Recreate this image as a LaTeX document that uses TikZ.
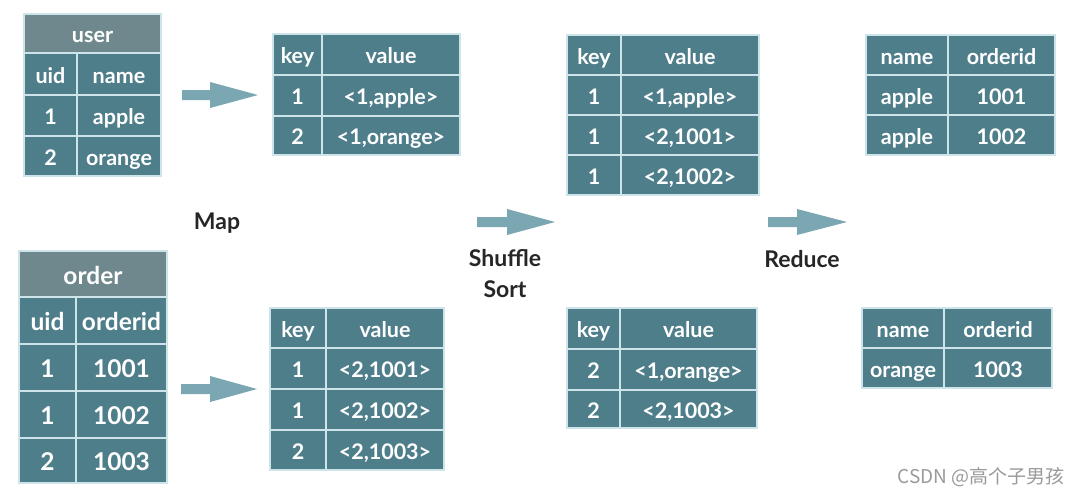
\documentclass[tikz,border=0pt]{standalone}
\usepackage{fontspec}
\setmainfont{Lato}
\newfontfamily\cjk{Noto Sans CJK SC}
\definecolor{cellc}{HTML}{4F7E8B}
\definecolor{headc}{HTML}{6F888D}
\definecolor{gridc}{HTML}{CDE5EA}
\definecolor{arrc}{HTML}{7AA7B2}
\definecolor{wmc}{HTML}{9A9A9A}
\newcommand{\tcell}[7]{\node[#6, minimum width={(#4-#2)*1pt}, minimum height={(#5-#3)*1pt}] (#1) at ({(#2+#4)/2},{(#3+#5)/2}) {#7};}
\newcommand{\barrow}[4]{\fill[arrc] (#1,#4-5) -- (#2,#4-5) -- (#2,#4-13) -- (#3,#4) -- (#2,#4+13) -- (#2,#4+5) -- (#1,#4+5) -- cycle;}
\begin{document}
\begin{tikzpicture}[x=1pt,y=-1pt,
  cell/.style={draw=gridc, line width=1.4pt, fill=cellc, text=white, inner sep=0pt, text height=21pt, text depth=3pt, font=\bfseries\fontsize{21.5}{25}\selectfont},
  head/.style={cell, fill=headc},
  big/.style={font=\bfseries\fontsize{24.5}{28}\selectfont, text height=23pt, text depth=3pt},
  lbl/.style={font=\bfseries\fontsize{23}{27}\selectfont, text=black!85, inner sep=0pt}]
\useasboundingbox (0,0) rectangle (1077,499);
\fill[white] (0,0) rectangle (1077,499);
% user table
\tcell{uh}{24}{14}{161}{53}{head}{user}
\tcell{u11}{24}{53}{77}{95}{cell}{uid}
\tcell{u12}{77}{53}{161}{95}{cell}{name}
\tcell{u21}{24}{95}{77}{136}{cell}{1}
\tcell{u22}{77}{95}{161}{136}{cell}{apple}
\tcell{u31}{24}{136}{77}{176}{cell}{2}
\tcell{u32}{77}{136}{161}{176}{cell}{orange}
% order table
\tcell{oh}{19}{251}{167}{297}{head,big}{order}
\tcell{o11}{19}{297}{76}{344}{cell,big}{uid}
\tcell{o12}{76}{297}{167}{344}{cell,big}{orderid}
\tcell{o21}{19}{344}{76}{391}{cell,big}{1}
\tcell{o22}{76}{344}{167}{391}{cell,big}{1001}
\tcell{o31}{19}{391}{76}{438}{cell,big}{1}
\tcell{o32}{76}{391}{167}{438}{cell,big}{1002}
\tcell{o41}{19}{438}{76}{483}{cell,big}{2}
\tcell{o42}{76}{438}{167}{483}{cell,big}{1003}
% map output 1
\tcell{a11}{273}{34}{322}{75}{cell}{key}
\tcell{a12}{322}{34}{460}{75}{cell}{value}
\tcell{a21}{273}{75}{322}{116}{cell}{1}
\tcell{a22}{322}{75}{460}{116}{cell}{<1,apple>}
\tcell{a31}{273}{116}{322}{155}{cell}{2}
\tcell{a32}{322}{116}{460}{155}{cell}{<1,orange>}
% map output 2
\tcell{b11}{270}{308}{326}{348}{cell}{key}
\tcell{b12}{326}{308}{444}{348}{cell}{value}
\tcell{b21}{270}{348}{326}{389}{cell}{1}
\tcell{b22}{326}{348}{444}{389}{cell}{<2,1001>}
\tcell{b31}{270}{389}{326}{430}{cell}{1}
\tcell{b32}{326}{389}{444}{430}{cell}{<2,1002>}
\tcell{b41}{270}{430}{326}{470}{cell}{2}
\tcell{b42}{326}{430}{444}{470}{cell}{<2,1003>}
% shuffle output 1
\tcell{c11}{567}{35}{621}{75}{cell}{key}
\tcell{c12}{621}{35}{759}{75}{cell}{value}
\tcell{c21}{567}{75}{621}{115}{cell}{1}
\tcell{c22}{621}{75}{759}{115}{cell}{<1,apple>}
\tcell{c31}{567}{115}{621}{155}{cell}{1}
\tcell{c32}{621}{115}{759}{155}{cell}{<2,1001>}
\tcell{c41}{567}{155}{621}{195}{cell}{1}
\tcell{c42}{621}{155}{759}{195}{cell}{<2,1002>}
% shuffle output 2
\tcell{d11}{567}{308}{620}{349}{cell}{key}
\tcell{d12}{620}{308}{757}{349}{cell}{value}
\tcell{d21}{567}{349}{620}{390}{cell}{2}
\tcell{d22}{620}{349}{757}{390}{cell}{<1,orange>}
\tcell{d31}{567}{390}{620}{428}{cell}{2}
\tcell{d32}{620}{390}{757}{428}{cell}{<2,1003>}
% reduce output 1
\tcell{e11}{866}{35}{948}{75}{cell}{name}
\tcell{e12}{948}{35}{1055}{75}{cell}{orderid}
\tcell{e21}{866}{75}{948}{115}{cell}{apple}
\tcell{e22}{948}{75}{1055}{115}{cell}{1001}
\tcell{e31}{866}{115}{948}{155}{cell}{apple}
\tcell{e32}{948}{115}{1055}{155}{cell}{1002}
% reduce output 2
\tcell{f11}{862}{308}{944}{348}{cell}{name}
\tcell{f12}{944}{308}{1052}{348}{cell}{orderid}
\tcell{f21}{862}{348}{944}{388}{cell}{orange}
\tcell{f22}{944}{348}{1052}{388}{cell}{1003}
% arrows
\barrow{182}{210}{258}{95}
\barrow{181}{210}{257}{389}
\barrow{477}{507}{555}{222}
\barrow{768}{797}{847}{222}
% labels
\node[lbl] (map) at (217,223) {Map};
\node[lbl] (shuffle) at (505,258) {Shuffle};
\node[lbl] (sort) at (505,289) {Sort};
\node[lbl] (reduce) at (802,259) {Reduce};
% watermark
\node[text=wmc, font=\cjk\fontsize{19}{22}\selectfont, inner sep=0pt] (wm) at (981,477) {CSDN @高个子男孩};
\end{tikzpicture}
\end{document}
